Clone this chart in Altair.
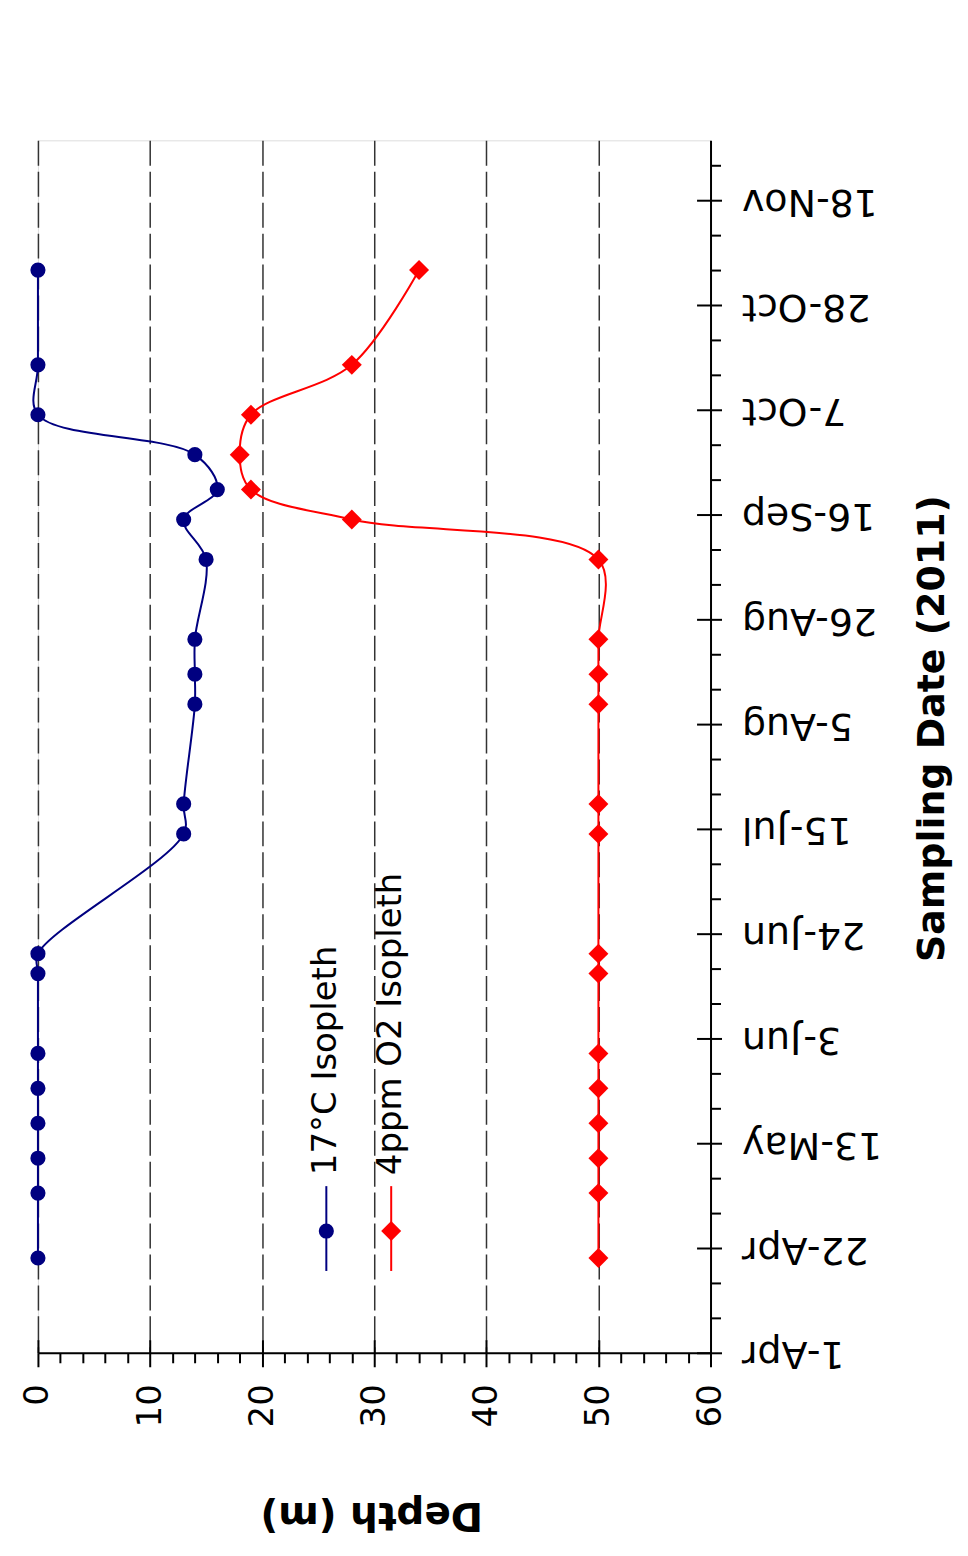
import altair as alt
import pandas as pd

# ---- data ----
dates = ["2011-04-20", "2011-05-03", "2011-05-10", "2011-05-17", "2011-05-24",
         "2011-05-31", "2011-06-16", "2011-06-20", "2011-07-14", "2011-07-20",
         "2011-08-09", "2011-08-15", "2011-08-22", "2011-09-07", "2011-09-15",
         "2011-09-21", "2011-09-28", "2011-10-06", "2011-10-16", "2011-11-04"]
blue_depth = [0, 0, 0, 0, 0, 0, 0, 0, 13, 13, 14, 14, 14, 15, 13, 16, 14, 0, 0, 0]
red_depth = [50, 50, 50, 50, 50, 50, 50, 50, 50, 50, 50, 50, 50, 50, 28, 19, 18, 19, 28, 34]
series_names = ["17°C Isopleth", "4ppm O2 Isopleth"]
series_colors = ["#000080", "#FF0000"]

depth_ticks = [0, 10, 20, 30, 40, 50, 60]
depth_grid = [0, 10, 20, 30, 40, 50]
depth_minor = [v for v in range(0, 61, 2) if v % 10 != 0]
date_ticks = ["2011-04-01", "2011-04-22", "2011-05-13", "2011-06-03", "2011-06-24",
              "2011-07-15", "2011-08-05", "2011-08-26", "2011-09-16", "2011-10-07",
              "2011-10-28", "2011-11-18"]
date_domain = ["2011-04-01", "2011-11-30"]


def ms(d):
    return int(pd.Timestamp(d, tz="UTC").value // 10**6)


major_ms = [ms(d) for d in date_ticks]
minor_ms = [ms(d) for d in pd.date_range("2011-04-01", "2011-11-30", freq="7D").strftime("%Y-%m-%d")
            if ms(d) not in major_ms]

df = pd.DataFrame({"date": dates, "blue": blue_depth, "red": red_depth})

W, H = 674, 1215
FONT = "DejaVu Sans"

xscale = alt.Scale(domain=[0, 60], nice=False, zero=False)
yscale = alt.Scale(type="utc", domain=[ms(date_domain[0]), ms(date_domain[1])], nice=False)

common = dict(domainColor="black", tickColor="black", tickWidth=2, domainWidth=2,
              labelColor="black", titleColor="black")

x_main = alt.Axis(orient="bottom", values=depth_ticks, tickSize=14, labelAngle=270,
                  labelAlign="right", labelBaseline="middle", labelPadding=17,
                  labelFont=FONT, labelFontSize=34, title="Depth (m)",
                  titleFont=FONT, titleFontSize=39, titleFontWeight="bold",
                  titleAngle=180, titleAlign="center", titleBaseline="middle",
                  titleX=334, titleY=162, grid=False, **common)
# dashed grid (and the inner half of the crossing major ticks)
x_inner = alt.Axis(orient="bottom", values=depth_grid, tickSize=13, offset=-13,
                   labels=False, domain=False, grid=True, gridDash=[25, 6],
                   gridColor="#333333", gridWidth=1.5, gridOpacity=1, title=None, **common)
x_minor = alt.Axis(orient="bottom", values=depth_minor, tickSize=10, labels=False,
                   domain=False, grid=False, title=None, **common)

y_main = alt.Axis(orient="right", values=major_ms, format="%-d-%b", tickSize=11,
                  labelAngle=180, labelAlign="right", labelBaseline="middle",
                  labelPadding=20, labelFont=FONT, labelFontSize=38,
                  title="Sampling Date (2011)", titleFont=FONT, titleFontSize=38,
                  titleFontWeight="bold", titleAngle=270, titleAlign="center",
                  titleBaseline="middle", titleX=222, titleY=589, grid=False,
                  labelOverlap=False, **common)
y_inner = alt.Axis(orient="right", values=major_ms, tickSize=14, offset=-14,
                   labels=False, domain=False, grid=False, title=None, **common)
y_minor = alt.Axis(orient="right", values=minor_ms, tickSize=10, labels=False,
                   domain=False, grid=False, title=None, **common)

base = alt.Chart(df)


def enc(field, xa, ya):
    return dict(
        x=alt.X(f"{field}:Q", scale=xscale, axis=xa),
        y=alt.Y("date:T", scale=yscale, axis=ya),
        order=alt.Order("date:T"),
    )


blue_line = base.mark_line(color=series_colors[0], strokeWidth=2, interpolate="catmull-rom",
                           clip=False).encode(**enc("blue", x_main, y_main))
blue_pts = base.mark_point(shape="circle", filled=True, opacity=1, size=230,
                           color=series_colors[0]).encode(**enc("blue", x_inner, y_inner))
red_line = base.mark_line(color=series_colors[1], strokeWidth=2, interpolate="catmull-rom",
                          clip=False).encode(**enc("red", x_minor, y_minor))
red_pts = base.mark_point(shape="diamond", filled=True, opacity=1, size=400,
                          color=series_colors[1]).encode(**enc("red", None, None))

# ---- legend (drawn inside the plot, rotated like the rest) ----
leg_df = pd.DataFrame({"k": [0]})
legend_layers = []
for i, (name, col) in enumerate(zip(series_names, series_colors)):
    lx = 289 + i * 65
    rule = alt.Chart(leg_df).mark_rule(color=col, strokeWidth=2).encode(
        x=alt.value(lx), y=alt.value(1048), y2=alt.value(1133))
    sym = alt.Chart(leg_df).mark_point(
        shape="circle" if i == 0 else "diamond", filled=True, opacity=1,
        size=230 if i == 0 else 400, color=col).encode(x=alt.value(lx), y=alt.value(1093))
    txt = alt.Chart(leg_df).mark_text(angle=270, align="left", baseline="middle",
                                      font=FONT, fontSize=34, color="black").encode(
        x=alt.value(lx), y=alt.value(1037), text=alt.value(name))
    legend_layers += [rule, sym, txt]

chart = alt.layer(blue_line, blue_pts, red_line, red_pts, *legend_layers).resolve_axis(
    x="independent", y="independent"
).properties(
    width=W, height=H,
    autosize=alt.AutoSizeParams(type="none"),
    padding={"left": 30, "top": 131, "right": 250, "bottom": 190},
).configure_view(stroke="white", fill="white").configure_axis(
    grid=False
).configure(background="white")

chart.save("out.html", embed_options={"renderer": "svg", "actions": False})
